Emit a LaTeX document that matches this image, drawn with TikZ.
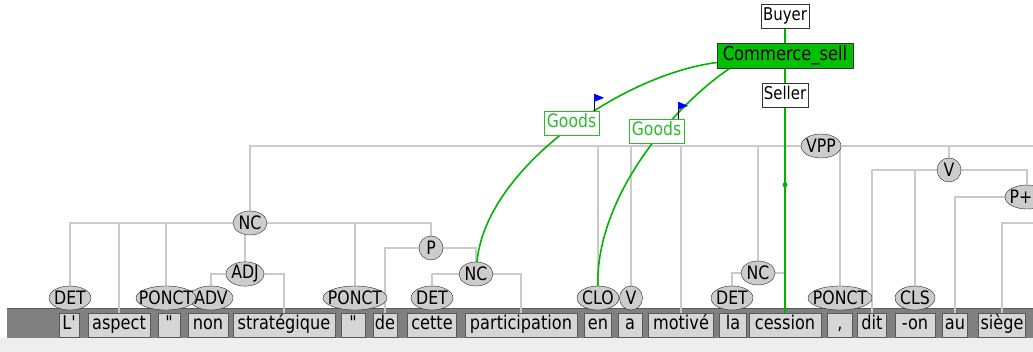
\documentclass[tikz,border=0pt]{standalone}
\usepackage{fontspec}
\newfontfamily\uifont{DejaVu Sans}[FakeStretch=0.85]
\usetikzlibrary{shapes.geometric,backgrounds}
\definecolor{linkgreen}{RGB}{0,180,0}
\definecolor{fegreen}{RGB}{0,192,0}
\definecolor{goodsgreen}{RGB}{45,185,45}
\definecolor{treegray}{RGB}{202,202,202}
\definecolor{posgray}{RGB}{204,204,204}
\definecolor{tokgray}{RGB}{214,214,214}
\definecolor{bargray}{RGB}{128,128,128}
\definecolor{basegray}{RGB}{238,238,238}
\newcommand\lbl[1]{\makebox[0pt]{#1}}

\begin{document}
\begin{tikzpicture}
[
    x=1pt, y=-1pt,
    every node/.style={font=\uifont\fontsize{18.5}{21}\selectfont},
    treeline/.style={draw=treegray, line width=1.6pt},
    posnode/.style={shape=ellipse, draw=black!85, fill=posgray, inner sep=0pt, minimum height=24pt, minimum width=#1},
    posnode/.default=42,
    token/.style={shape=rectangle, draw=black!65, fill=tokgray, inner sep=0pt, minimum height=24pt, minimum width=#1,
        text height=14pt, text depth=4pt, font=\uifont\fontsize{19}{22}\selectfont},
    role/.style={shape=rectangle, draw=black!80, fill=white, inner sep=0pt, minimum height=24pt, minimum width=#1,
        text height=13pt, text depth=4pt, font=\uifont\fontsize{17.6}{20}\selectfont},
    goods/.style={shape=rectangle, draw=goodsgreen, fill=white, text=goodsgreen, inner sep=0pt, minimum height=24pt, minimum width=55,
        text height=13.5pt, text depth=4.5pt, font=\uifont\fontsize{18.4}{21}\selectfont},
    framebox/.style={shape=rectangle, draw=black!80, fill=fegreen, inner sep=0pt, minimum height=25pt, minimum width=136,
        text height=14.5pt, text depth=4.5pt, font=\uifont\fontsize{19.2}{22}\selectfont},
    link/.style={draw=linkgreen, line width=1.6pt},
    linkdot/.style={shape=circle, fill=linkgreen, inner sep=0pt, minimum size=5pt},
]
\useasboundingbox (0,0) rectangle (1033,352);

% words
\foreach \name/\x/\w/\word in {
    tL/69/20/L', tAspect/119/62/aspect, tQa/169/22/", tNon/208/40/non,
    tStrat/284/102/stratégique, tQb/353/24/", tDe/385/24/de, tCette/432/49/cette,
    tPart/521/112/participation, tEn/598/27/en, tA/630/24/a, tMotive/681/65/motivé,
    tLa/733/27/la, tCession/785/72/cession, tComma/840/25/{,}, tDit/872/29/dit,
    tOn/915/40/-on, tAu/955/25/au, tSiege/1002/47/siège}
    \node[token=\w] (\name) at (\x,325) {\word};

% part of speech
\node[posnode] (pDetA) at (70,298) {\lbl{DET}};
\node[posnode=44] (pAdv) at (211,298) {\lbl{ADV}};
\node[posnode=60] (pPonctA) at (166,298) {\lbl{PONCT}};
\node[posnode=64] (pPonctB) at (355,298) {\lbl{PONCT}};
\node[posnode] (pDetB) at (432,298) {\lbl{DET}};
\node[posnode] (pClo) at (598,298) {\lbl{CLO}};
\node[posnode=23] (pV) at (631,298) {\lbl{V}};
\node[posnode] (pDetC) at (732,298) {\lbl{DET}};
\node[posnode=64] (pPonctC) at (840,298) {\lbl{PONCT}};
\node[posnode=40] (pCls) at (915,298) {\lbl{CLS}};

% phrases
\node[posnode=34] (nNcA) at (250,223) {\lbl{NC}};
\node[posnode=38] (nAdj) at (245,274) {\lbl{ADJ}};
\node[posnode=24] (nP) at (431,248) {\lbl{P}};
\node[posnode=34] (nNcB) at (476,274) {\lbl{NC}};
\node[posnode=34] (nNcC) at (758,273) {\lbl{NC}};
\node[posnode=40] (nVpp) at (821,146) {\lbl{VPP}};
\node[posnode=24] (nV) at (949,170) {\lbl{V}};
\node[posnode=44] (nPd) at (1027,197) {\lbl{P+\phantom{D}}};
\coordinate (vppEnd) at (1040,146);
\coordinate (offRight) at (1040,223);

% frame
\node[role=48] (buyer) at (785,16) {Buyer};
\node[framebox] (fe) at (785,55.5) {Commerce\_sell};
\node[role=46] (seller) at (785,95.5) {Seller};

\begin{scope}[on background layer]
    \fill[bargray] (7,308) rectangle (1033,338);
    \draw[black!65] (7,308) -- (1033,308);
    \fill[basegray] (0,338) rectangle (1033,352);

    \draw[treeline] (nVpp) -| (nNcA);
    \draw[treeline] (nVpp) -| (pClo);
    \draw[treeline] (nVpp) -| (pV);
    \draw[treeline] (nVpp) -| (tMotive);
    \draw[treeline] (nVpp) -| (nNcC);
    \draw[treeline] (nVpp) -| (pPonctC);
    \draw[treeline] (nVpp) -| (nV);
    \draw[treeline] (nVpp) -- (vppEnd);
    \draw[treeline] (nNcA) -| (pDetA);
    \draw[treeline] (nNcA) -| (tAspect);
    \draw[treeline] (nNcA) -| (pPonctA);
    \draw[treeline] (nNcA) -| (nAdj);
    \draw[treeline] (nNcA) -| (pPonctB);
    \draw[treeline] (nNcA) -| (nP);
    \draw[treeline] (nAdj) -| (pAdv);
    \draw[treeline] (nAdj) -| (tStrat);
    \draw[treeline] (nP) -| (tDe);
    \draw[treeline] (nP) -| (nNcB);
    \draw[treeline] (nNcB) -| (pDetB);
    \draw[treeline] (nNcB) -| (tPart);
    \draw[treeline] (nNcC) -| (pDetC);
    \draw[treeline] (nNcC) -| (tCession);
    \draw[treeline] (nV) -| (tDit);
    \draw[treeline] (nV) -| (pCls);
    \draw[treeline] (nV) -| (nPd);
    \draw[treeline] (nPd) -| (tAu);
    \draw[treeline] (offRight) -| (tSiege);

    \draw[link] (buyer) -- (fe);
    \draw[link] (fe) -- (seller);
    \draw[link] (seller) -- node[pos=0.376, linkdot] {} (tCession);
    \draw[link] ([yshift=-7pt]fe.west) .. controls (620,75) and (485,170) .. (nNcB);
    \draw[link] ([xshift=-55pt]fe.south) .. controls (675,105) and (596,195) .. (pClo);
\end{scope}

% roles with flags
\node[goods] (goodsA) at (571.5,123) {Goods};
\node[goods] (goodsB) at (656.5,131) {Goods};
\draw[black, line width=1pt] ([xshift=-5pt]goodsA.north east) -- ++(0,-17) coordinate (flagA);
\fill[blue] (flagA) -- ++(10,4) -- ++(-10,4) -- cycle;
\draw[black, line width=1pt] ([xshift=-6pt]goodsB.north east) -- ++(0,-17) coordinate (flagB);
\fill[blue] (flagB) -- ++(10,4) -- ++(-10,4) -- cycle;
\end{tikzpicture}
\end{document}
